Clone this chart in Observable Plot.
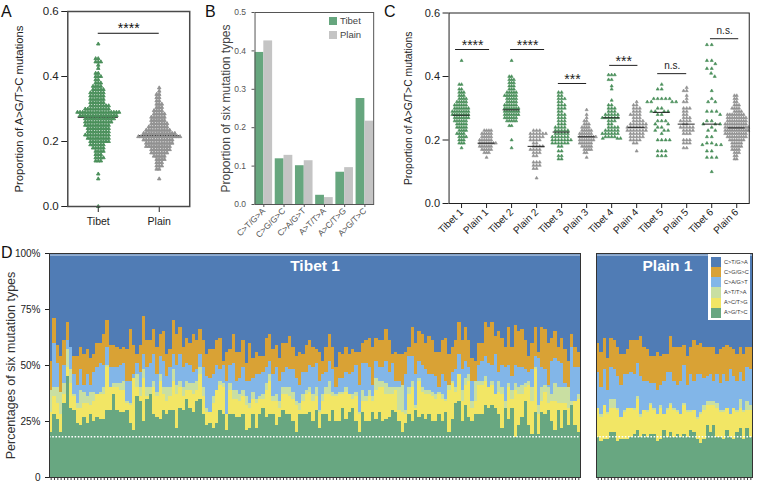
<!DOCTYPE html>
<html><head><meta charset="utf-8">
<script src="https://cdn.jsdelivr.net/npm/d3@7"></script>
<script src="https://cdn.jsdelivr.net/npm/@observablehq/plot@0.6"></script>
<style>
html,body{margin:0;padding:0;background:#fff;font-family:"Liberation Sans",Arial,sans-serif}
#page{position:relative;width:757px;height:485px;overflow:hidden}
#page svg{position:absolute;overflow:visible}
.abs{position:absolute;white-space:nowrap}
.letter{font-size:16px;color:#111}
</style></head><body><div id="page"></div>
<script>
// Panel A: [value, count]
const aTibet=[[.5,1],[.455,2],[.445,3],[.435,1],[.425,1],[.41,2],[.40,3],[.39,2],[.38,3],[.37,4],[.36,5],[.35,6],[.34,6],[.33,6],[.32,6],[.31,8],[.30,10],[.29,17],[.28,15],[.27,12],[.26,11],[.25,10],[.24,9],[.23,9],[.22,10],[.21,9],[.20,8],[.19,6],[.18,5],[.17,4],[.16,3],[.15,4],[.14,3],[.10,1],[.085,1],[0,1]];
const aPlain=[[.365,1],[.355,1],[.345,2],[.335,2],[.325,2],[.315,3],[.305,3],[.295,4],[.285,5],[.275,6],[.265,6],[.255,7],[.245,8],[.235,10],[.225,13],[.215,17],[.205,12],[.195,11],[.185,10],[.175,8],[.165,7],[.155,5],[.145,4],[.135,3],[.125,3],[.115,2],[.085,1]];
const aGroups=["Tibet","Plain"];
const aMedians=[.275,.218];
// Panel B
const bTypes=["C>T/G>A","C>G/G>C","C>A/G>T","A>T/T>A","A>C/T>G","A>G/T>C"];
const bTibet=[.396,.119,.101,.024,.084,.276];
const bPlain=[.426,.128,.114,.018,.096,.217];
// Panel C
const cGroups=["Tibet 1","Plain 1","Tibet 2","Plain 2","Tibet 3","Plain 3","Tibet 4","Plain 4","Tibet 5","Plain 5","Tibet 6","Plain 6"];
const cMedians=[.278,.19,.295,.18,.225,.21,.27,.24,.287,.25,.25,.238];
const cT1=[[.45,1],[.375,2],[.36,2],[.35,3],[.34,3],[.33,4],[.32,5],[.31,6],[.30,7],[.29,8],[.28,8],[.27,7],[.26,6],[.25,5],[.24,5],[.23,4],[.22,4],[.21,4],[.20,3],[.19,3],[.175,1]];
const cP1=[[.23,4],[.22,5],[.21,5],[.20,6],[.19,8],[.18,6],[.17,5],[.16,3],[.145,1]];
const cT2=[[.45,1],[.40,2],[.39,3],[.38,3],[.37,3],[.36,3],[.35,5],[.34,6],[.33,5],[.32,5],[.31,6],[.30,7],[.29,7],[.28,7],[.27,6],[.26,5],[.245,2],[.2,1],[.175,1]];
const cP2=[[.23,3],[.22,6],[.21,5],[.20,4],[.19,2],[.18,4],[.17,4],[.16,3],[.15,2],[.13,3],[.12,3],[.11,2],[.08,1]];
const cT3=[[.35,2],[.34,2],[.33,3],[.32,2],[.31,3],[.30,3],[.29,2],[.28,3],[.27,3],[.26,3],[.25,3],[.24,4],[.23,5],[.22,5],[.21,6],[.20,7],[.19,6],[.18,2],[.165,2],[.15,2],[.14,2]];
const cP3=[[.295,1],[.28,1],[.27,1],[.26,2],[.25,3],[.24,4],[.23,5],[.22,6],[.21,8],[.20,7],[.19,6],[.18,5],[.17,4],[.16,2],[.145,1]];
const cT4=[[.405,3],[.39,2],[.37,1],[.36,1],[.325,1],[.31,2],[.30,3],[.29,3],[.28,5],[.27,6],[.26,3],[.25,2],[.24,4],[.23,5],[.22,6],[.21,4],[.205,3]];
const cP4=[[.32,1],[.31,2],[.30,3],[.29,3],[.28,4],[.27,3],[.26,4],[.25,6],[.24,7],[.23,7],[.22,5],[.21,5],[.20,4],[.19,2],[.165,1]];
const cT5=[[.375,1],[.36,2],[.33,5],[.32,4],[.30,2],[.29,4],[.28,2],[.26,3],[.25,2],[.24,2],[.23,3],[.22,1],[.20,4],[.165,3],[.15,3]];
const cP5=[[.365,1],[.355,2],[.34,1],[.33,1],[.32,2],[.30,3],[.29,2],[.28,2],[.27,3],[.26,4],[.25,2],[.24,5],[.23,4],[.22,3],[.20,3],[.19,3],[.175,2]];
const cT6=[[.50,2],[.45,2],[.44,1],[.425,2],[.41,1],[.40,1],[.355,1],[.33,1],[.32,2],[.29,3],[.28,1],[.26,2],[.25,3],[.24,1],[.23,2],[.21,2],[.19,2],[.185,3],[.165,2],[.145,3],[.10,1]];
const cP6=[[.34,2],[.33,2],[.32,2],[.31,3],[.30,4],[.29,4],[.28,8],[.27,9],[.26,9],[.25,10],[.24,11],[.23,11],[.22,10],[.21,9],[.20,7],[.19,5],[.18,5],[.17,4],[.16,3],[.15,2],[.14,2]];
const cLists=[cT1,cP1,cT2,cP2,cT3,cP3,cT4,cP4,cT5,cP5,cT6,cP6];
// Panel D: upper edge (%) of each band, per sample
const tibetGreenTop=[20,28,26,20,33,45,31,30,24,23,27,24,28,25,27,26,26,30,30,37,30,29,29,30,24,21,36,34,25,35,37,28,27,26,30,28,30,30,22,31,30,35,31,29,34,
35,28,23,24,22,24,30,28,21,28,28,27,27,28,21,22,28,22,28,31,27,28,28,23,27,30,28,28,25,20,28,28,28,29,25,30,22,28,28,25,30,25,25,31,26,29,31,25,20,29,25,25,29,26,29,25,26,27,30,
29,25,20,24,28,25,30,27,28,26,28,25,25,28,25,29,20,26,33,34,25,32,27,25,28,28,28,32,31,32,31,28,22,31,26,31,18,23,27,34,23,19,29,19,29,28,30,25,21,30,22,30,23,32,23,20];
const tibetYellowTop=[29,36,33,28,37,49,42,36,31,31,33,33,32,34,37,37,37,49,40,40,40,39,39,33,32,44,40,36,44,36,37,40,36,43,37,34,36,43,37,40,36,39,39,37,39,
46,36,29,29,33,39,41,40,28,39,35,35,34,36,32,31,35,33,35,35,39,43,34,34,31,37,37,36,35,32,30,34,37,38,34,36,29,34,37,37,36,36,37,37,38,37,35,36,28,34,34,36,34,39,40,40,37,37,37,
39,30,29,28,37,40,31,43,38,37,37,36,35,37,35,34,39,42,38,46,34,41,43,31,34,41,41,43,40,41,37,38,37,31,40,35,39,37,37,40,41,34,48,28,34,38,33,34,34,33,33,33,31,32,34,35];
const tibetPaleTop=[39,40,40,38,42,57,48,37,33,39,38,36,38,38,37,38,40,50,40,42,42,42,43,34,33,44,46,40,48,40,40,43,38,46,40,40,40,48,41,43,40,43,42,42,43,
49,40,31,29,36,39,43,42,28,42,39,39,37,39,36,33,38,35,36,37,42,46,36,37,34,40,40,40,38,34,33,37,39,40,37,40,30,37,40,43,38,37,38,38,40,37,37,38,29,39,36,39,36,44,43,43,42,40,40,
40,40,41,30,40,43,32,44,40,39,39,38,37,38,37,35,41,43,40,46,39,44,46,34,43,43,43,45,40,43,37,43,40,34,42,39,42,40,41,42,43,40,49,32,40,41,40,37,42,40,40,40,40,34,34,37];
const tibetBlueTop=[39,60,51,38,50,61,58,46,41,48,41,46,41,47,49,51,50,58,49,49,49,50,51,43,43,46,51,47,55,49,51,55,46,54,52,45,49,55,50,55,49,51,50,47,48,
55,49,45,44,46,50,48,50,43,50,51,43,44,49,43,43,44,46,46,47,49,52,46,49,43,47,49,48,48,44,41,47,47,50,49,51,43,46,47,52,48,40,44,44,47,46,47,50,41,51,51,49,41,52,49,49,52,47,51,
43,43,40,46,54,54,46,52,50,48,46,46,45,40,46,43,39,47,48,55,48,52,49,43,43,50,52,54,51,50,55,47,50,49,50,45,50,49,49,48,47,48,54,53,49,48,41,52,53,52,51,42,40,58,49,49];
const tibetOrangeTop=[52,71,59,54,61,69,58,54,54,58,55,57,53,55,60,60,64,70,59,59,58,57,58,57,66,59,55,59,72,61,61,66,58,64,65,55,57,70,64,67,58,62,60,64,61,
66,61,55,57,57,61,62,52,56,57,64,56,56,61,51,60,53,56,54,54,62,64,57,59,53,60,60,63,58,54,56,55,59,61,58,57,56,52,58,64,58,49,56,55,58,55,57,56,56,60,61,62,58,62,61,61,66,61,55,
56,55,55,56,58,67,60,65,64,60,63,61,56,56,61,62,55,58,61,69,61,67,61,53,52,60,60,69,67,69,63,65,62,58,67,58,68,65,66,61,54,60,67,56,67,66,60,62,65,58,62,57,52,64,58,56];
const plainGreenTop=[18,16,17,17,20,20,16,17,17,17,18,19,21,18,19,18,19,19,16,17,21,18,20,18,19,18,19,18,21,20,17,15,17,23,20,23,18,18,17,21,18,17,20,22,17,22,18];
const plainYellowTop=[31,27,32,28,31,31,30,27,29,31,31,30,35,27,30,29,32,30,28,31,28,30,32,30,29,28,32,29,29,30,26,28,30,32,32,32,31,29,29,31,28,31,29,31,29,30,30];
const plainPaleTop=[31,28,32,29,35,35,31,27,30,31,31,31,36,28,30,30,33,31,28,32,28,31,33,31,30,28,33,30,30,30,27,29,32,34,34,34,33,30,30,31,28,31,30,35,30,34,32];
const plainBlueTop=[47,40,48,39,49,48,45,41,46,46,47,46,51,45,43,43,42,42,39,41,43,47,47,43,41,43,50,41,46,43,46,46,44,45,46,43,46,42,46,43,48,45,43,47,43,49,48];
const plainOrangeTop=[60,56,62,53,62,61,58,55,55,57,61,61,61,63,58,57,54,54,56,54,55,55,63,58,58,58,59,54,58,61,59,60,58,58,58,58,55,57,58,59,58,57,55,58,55,58,58];
const dTypes=bTypes;
const dColors=["#507cb5","#d9a235","#82b6e8","#c9dfa2","#f2e665","#68a781"];

const FONT='"Liberation Sans",Arial,sans-serif';
const GREEN="#4a8f5a",GREY="#919191";
const page=document.getElementById("page");
function place(svg,left,top){svg.style.left=left+"px";svg.style.top=top+"px";page.appendChild(svg);}
function html(cls,left,top,text,css){const d=document.createElement("div");d.className="abs "+cls;d.style.left=left+"px";d.style.top=top+"px";d.textContent=text;Object.assign(d.style,css||{});page.appendChild(d);return d;}
const expand=(list,g)=>list.flatMap(([v,n])=>Array.from({length:n},()=>({g,v})));

// ---------- A
{
 const pts=[...expand(aTibet,"Tibet"),...expand(aPlain,"Plain")];
 const med=aGroups.map((g,i)=>({g,v:aMedians[i],a:.17,b:.83}));
 const br=[{g:"Tibet",v:.533,t:.548,a:.5,b:1.5,label:"****",m:1}];
 const col=d=>d.g=="Tibet"?GREEN:GREY;
 place(Plot.plot({width:204,height:240,marginLeft:56,marginRight:3.5,marginTop:11,marginBottom:34,
  style:{fontFamily:FONT,background:"transparent"},
  x:{domain:[0,1],axis:null},
  fx:{domain:aGroups,paddingInner:0,paddingOuter:.185,round:false,axis:null,label:null},
  y:{domain:[0,.6],axis:null},
  marks:[
   Plot.ruleY(med,{fx:"g",y:"v",x1:"a",x2:"b",stroke:"#111",strokeWidth:1.2}),
   Plot.dot(pts,Plot.dodgeX({anchor:"middle",padding:0},{fx:"g",y:"v",r:1.3,symbol:"triangle",fill:col,stroke:col,strokeWidth:.9})),
   Plot.ruleY(br,{fx:"g",y:"v",x1:"a",x2:"b",stroke:"#111",strokeWidth:1}),
   Plot.text(br,{fx:"g",y:"t",x:"m",text:"label",fontSize:14,fill:"#111"}),
   Plot.axisFx({anchor:"bottom",label:null,tickSize:6,fontSize:10.5,tickPadding:5,color:"#222"}),
   Plot.axisY({ticks:[0,.2,.4,.6],tickFormat:d3.format(".1f"),tickSize:6,fontSize:11.5,label:null,color:"#222"}),
   Plot.axisY({ticks:[],label:"Proportion of A>G/T>C mutations",labelAnchor:"center",labelArrow:"none",labelOffset:53,fontSize:11.3,color:"#222"}),
   Plot.frame({facet:"super",stroke:"#4a4a4a",strokeWidth:1.5})
  ]}),0,0);
}
// ---------- B
{
 const rows=bTypes.flatMap((t,i)=>[{t,s:"Tibet",v:bTibet[i]},{t,s:"Plain",v:bPlain[i]}]);
 place(Plot.plot({width:180,height:245,marginLeft:46.7,marginRight:9,marginTop:12,marginBottom:41,
  style:{fontFamily:FONT,background:"transparent"},
  x:{domain:["Tibet","Plain"],axis:null,padding:0,round:false},
  fx:{domain:bTypes,paddingInner:.13,paddingOuter:.14,round:false,axis:null,label:null},
  y:{domain:[0,.5],axis:null},
  color:{domain:["Tibet","Plain"],range:["#66a67e","#c4c4c4"]},
  marks:[
   Plot.barY(rows,{fx:"t",x:"s",y:"v",fill:"s",inset:0}),
   Plot.axisFx({anchor:"bottom",label:null,tickSize:3,fontSize:8.5,tickRotate:-45,tickPadding:2,color:"#555"}),
   Plot.axisY({ticks:[0,.1,.2,.3,.4,.5],tickFormat:d3.format(".1f"),tickSize:3,fontSize:8.5,label:null,color:"#555"}),
   Plot.axisY({ticks:[],label:"Proportion of six mutation types",labelAnchor:"center",labelArrow:"none",labelOffset:34,fontSize:12,color:"#444"}),
   Plot.frame({facet:"super",stroke:"#555",strokeWidth:1})
  ]}),205,0);
 ["Tibet","Plain"].forEach((s,i)=>{
  html("",328.5,17+i*14,"",{width:"8px",height:"8px",background:i?"#c4c4c4":"#66a67e"});
  html("",340,15+i*14,s,{fontSize:"9.5px",color:"#444"});
 });
}
// ---------- C
{
 const pts=cLists.flatMap((l,i)=>expand(l,cGroups[i]));
 const col=d=>d.g.startsWith("Tibet")?GREEN:GREY;
 const sets=[[["Tibet 1","Plain 1","Tibet 2","Plain 3","Plain 6"],0],[["Plain 2","Tibet 3","Tibet 4","Plain 4","Plain 5"],.8],[["Tibet 5"],1.7],[["Tibet 6"],2.5]];
 const med=cGroups.map((g,i)=>({g,v:cMedians[i],a:.16,b:.84}));
 const br=[["Tibet 1",.485,.26,1.62,"****"],["Tibet 2",.485,.46,1.82,"****"],["Tibet 3",.378,.37,1.5,"***"],["Tibet 4",.435,.42,1.55,"***"],["Tibet 5",.409,.34,1.5,"n.s."],["Tibet 6",.519,.45,1.58,"n.s."]]
  .map(([g,v,a,b,label])=>({g,v,a,b,label,m:(a+b)/2,t:v+(label=="n.s."?.024:.012)}));
 place(Plot.plot({width:367,height:245,marginLeft:54.3,marginRight:4,marginTop:12.5,marginBottom:42,
  style:{fontFamily:FONT,background:"transparent"},
  x:{domain:[0,1],axis:null},
  fx:{domain:cGroups,paddingInner:0,paddingOuter:.17,round:false,axis:null,label:null},
  y:{domain:[0,.6],axis:null},
  marks:[
   ...sets.map(([s,p])=>Plot.dot(pts.filter(d=>s.includes(d.g)),Plot.dodgeX({anchor:"middle",padding:p},{fx:"g",y:"v",r:1.15,symbol:"triangle",fill:col,stroke:col,strokeWidth:.6}))),
   Plot.ruleY(med,{fx:"g",y:"v",x1:"a",x2:"b",stroke:"#222",strokeWidth:1}),
   Plot.ruleY(br,{fx:"g",y:"v",x1:"a",x2:"b",stroke:"#222",strokeWidth:1}),
   Plot.text(br,{fx:"g",y:"t",x:"m",text:"label",fontSize:d=>d.label=="n.s."?10:14,fill:"#222"}),
   Plot.axisFx({anchor:"bottom",label:null,tickSize:5,fontSize:10,tickRotate:-45,tickPadding:2,color:"#222"}),
   Plot.axisY({ticks:[0,.2,.4,.6],tickFormat:d3.format(".1f"),tickSize:6,fontSize:11,label:null,color:"#222"}),
   Plot.axisY({ticks:[],label:"Proportion of A>G/T>C mutations",labelAnchor:"center",labelArrow:"none",labelOffset:44,fontSize:10.4,color:"#222"}),
   Plot.frame({facet:"super",stroke:"#222",strokeWidth:1})
  ]}),390,0);
}
// ---------- D
function stackPlot(tops,title,opts){
 const [green,yellow,pale,blue,orange]=tops;
 const idx=d3.range(green.length);
 const edges=[()=>0,i=>green[i],i=>yellow[i],i=>pale[i],i=>blue[i],i=>orange[i],()=>100];
 const rows=dTypes.flatMap((t,k)=>{const lo=edges[5-k],hi=edges[6-k];return idx.map(i=>({i,t,y1:lo(i),y2:hi(i)}));});
 return Plot.plot({...opts,height:245,marginTop:13,marginBottom:8,
  style:{fontFamily:FONT,background:"transparent"},
  x:{domain:idx,padding:0,round:false,axis:null},
  y:{domain:[0,100],axis:null},
  color:{domain:dTypes,range:dColors},
  marks:[
   Plot.barY(rows,{x:"i",y1:"y1",y2:"y2",fill:"t",inset:0,shapeRendering:"crispEdges"}),
   Plot.ruleY([99.3],{stroke:"#fff",strokeWidth:.8,strokeOpacity:.85}),
   Plot.ruleY([18.2],{stroke:"#fff",strokeWidth:1.3,strokeDasharray:"1.6 1.6"}),
   Plot.axisX({ticks:idx,tickFormat:()=>"",tickSize:3,stroke:"#222",strokeWidth:.9,label:null,anchor:"bottom"}),
   Plot.text([title.t],{frameAnchor:"top",lineAnchor:"middle",dy:12.5,dx:title.dx,fill:"#fff",fontSize:15.5,fontWeight:700,text:d=>d}),
   ...(opts.extra||[]),
   Plot.frame({stroke:"#333",strokeWidth:1})
  ]});
}
place(stackPlot([tibetGreenTop,tibetYellowTop,tibetPaleTop,tibetBlueTop,tibetOrangeTop],{t:"Tibet 1",dx:0},{width:585,marginLeft:49,marginRight:5,extra:[
  Plot.axisY({ticks:[0,25,50,75,100],tickFormat:d=>d?d+"%":"0",tickSize:4,fontSize:10,label:null,color:"#222"}),
  Plot.axisY({ticks:[],label:"Percentages of six mutation types",labelAnchor:"center",labelArrow:"none",labelOffset:43,fontSize:12.5,color:"#333"})
 ]}),0,240);
place(stackPlot([plainGreenTop,plainYellowTop,plainPaleTop,plainBlueTop,plainOrangeTop],{t:"Plain 1",dx:-7},{width:167,marginLeft:6,marginRight:5}),590,240);
// D legend
{
 html("",708,254,"",{width:"42px",height:"66px",background:"#fff"});
 dTypes.forEach((t,i)=>{
  html("",711,257+i*10.15,"",{width:"9.5px",height:"10.15px",background:dColors[i]});
  html("",724,258.5+i*10.15,t,{fontSize:"5.6px",color:"#333"});
 });
}
html("letter",1,3,"A");html("letter",205,3,"B");html("letter",384,3,"C");html("letter",1,244,"D");
</script></body></html>
